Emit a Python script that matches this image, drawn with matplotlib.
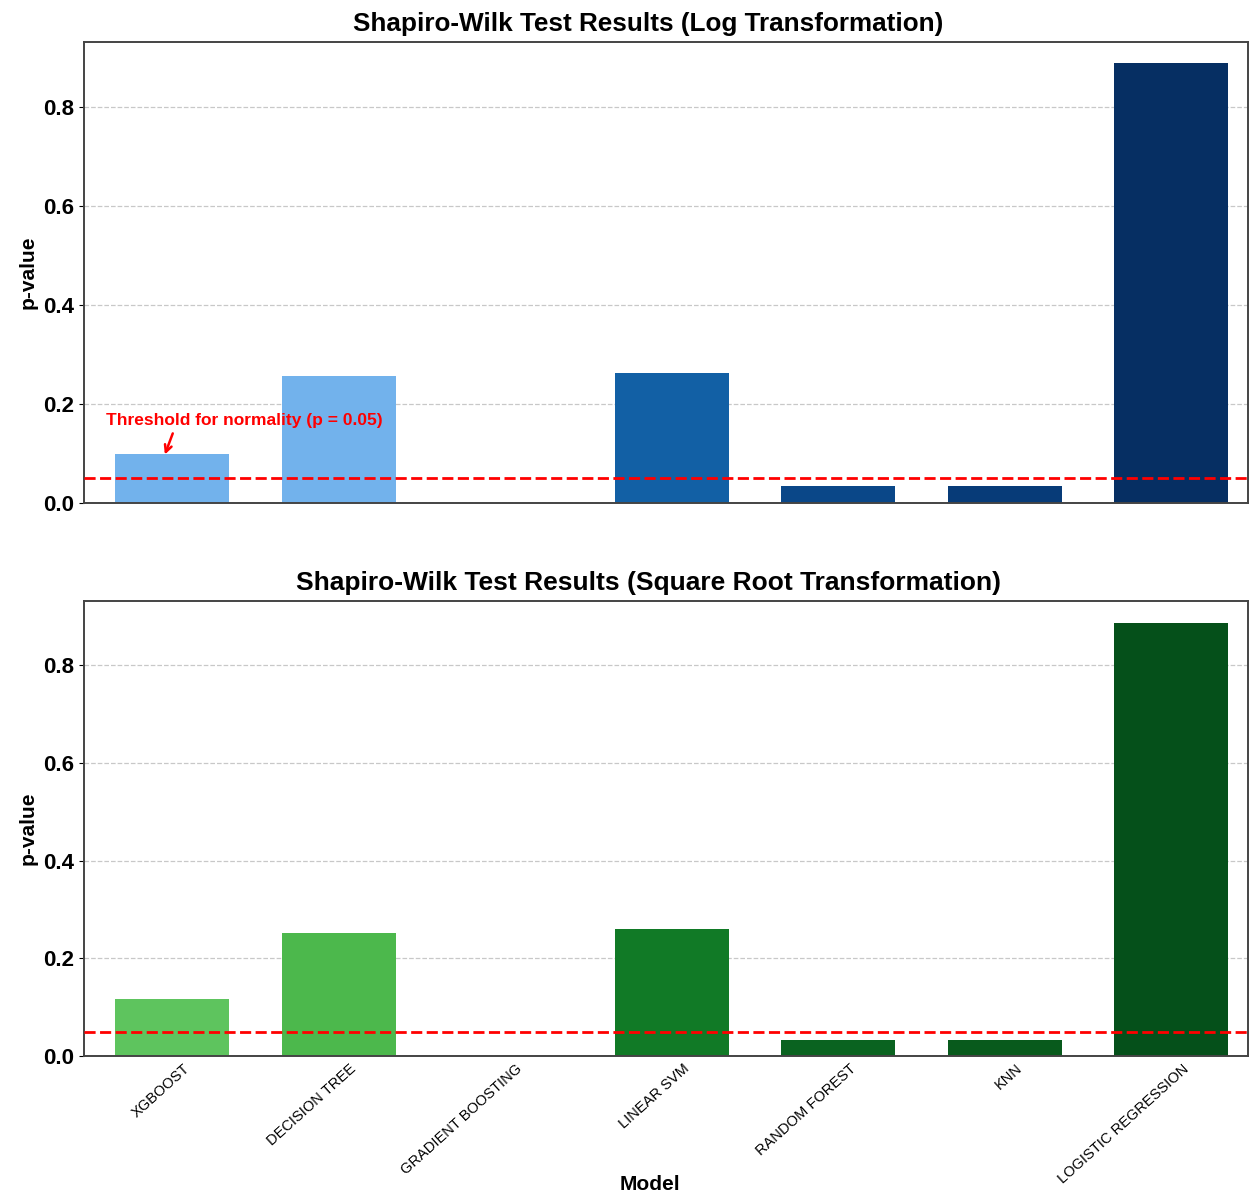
import numpy as np
import matplotlib
matplotlib.use("Agg")
import matplotlib.pyplot as plt
import matplotlib.transforms as mtransforms

plt.rcParams['font.family'] = ['Liberation Sans', 'DejaVu Sans']

models = ['XGBOOST', 'DECISION TREE', 'GRADIENT BOOSTING', 'LINEAR SVM',
          'RANDOM FOREST', 'KNN', 'LOGISTIC REGRESSION']
log_pvalues = [0.099, 0.255, 0.0, 0.263, 0.034, 0.034, 0.888]
sqrt_pvalues = [0.117, 0.251, 0.0, 0.260, 0.033, 0.033, 0.887]
threshold = 0.05

blue_colors = ['#72b2ec', '#72b2ec', '#3f88cc', '#1260a5', '#0a4788', '#073b78', '#062f63']
green_colors = ['#5ec45e', '#4cb84c', '#2a9a3a', '#117a26', '#0a6320', '#085a1c', '#05501a']

fig = plt.figure(figsize=(12.55, 11.92), dpi=100)
ax1 = fig.add_axes([0.0669, 0.5783, 0.9275, 0.3865])
ax2 = fig.add_axes([0.0669, 0.1141, 0.9275, 0.3817])

x = np.arange(len(models))

panels = [
    (ax1, log_pvalues, blue_colors, 'Shapiro-Wilk Test Results (Log Transformation)', 18.8),
    (ax2, sqrt_pvalues, green_colors, 'Shapiro-Wilk Test Results (Square Root Transformation)', 19),
]

for ax, vals, cols, title, tsize in panels:
    ax.bar(x, vals, width=0.685, color=cols, zorder=2)
    ax.axhline(threshold, color='red', linestyle='--', linewidth=2, dashes=(4, 1.6), zorder=3)
    ax.set_xlim(-0.53, 6.46)
    ax.set_ylim(0, 0.931)
    ax.set_yticks([0.0, 0.2, 0.4, 0.6, 0.8])
    ax.set_yticklabels(['0.0', '0.2', '0.4', '0.6', '0.8'], fontsize=16, fontweight='bold')
    ax.yaxis.grid(True, linestyle='--', color='#c8c8c8', linewidth=0.9, zorder=0)
    ax.set_axisbelow(True)
    ax.set_ylabel('p-value', fontsize=15, fontweight='bold', labelpad=4)
    ax.set_title(title, fontsize=tsize, fontweight='bold', pad=8, x=0.485)
    for s in ax.spines.values():
        s.set_color('#444444')
        s.set_linewidth(1.4)
    ax.set_xticks(x)

ax1.set_xticklabels([])
ax1.tick_params(axis='x', length=0)
ax2.tick_params(axis='x', length=0, pad=4)
labels = ax2.set_xticklabels(models, rotation=42, ha='right', fontsize=10.5)
shift = mtransforms.ScaledTranslation(20 / 100, 0, fig.dpi_scale_trans)
for lab in labels:
    lab.set_transform(lab.get_transform() + shift)
ax2.set_xlabel('Model', fontsize=15, fontweight='bold')
ax2.xaxis.set_label_coords(0.486, -0.262)

ax1.annotate('Threshold for normality (p = 0.05)', xy=(-0.05, 0.092), xytext=(-0.4, 0.166),
             color='red', fontsize=12.5, fontweight='bold', ha='left', va='center',
             arrowprops=dict(arrowstyle='->', color='red', lw=1.8, relpos=(0.25, 0.0)))

fig.savefig('out.png', dpi=100)
